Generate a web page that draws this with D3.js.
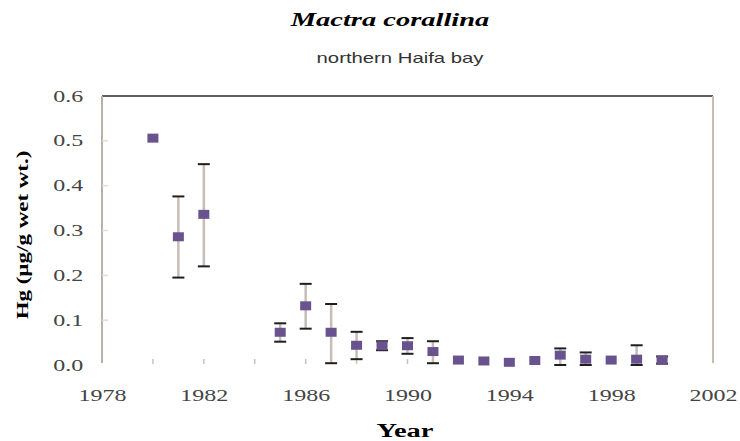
<!DOCTYPE html>
<html>
<head>
<meta charset="utf-8">
<script src="https://cdn.jsdelivr.net/npm/d3@7"></script>
<style>
  body { margin: 0; background: #fff; }
  svg { display: block; }
</style>
</head>
<body>
<div id="okvir"></div>
<script>
// podaci ocitani sa slike
const godine = [1980, 1981, 1982, 1985, 1986, 1987, 1988, 1989, 1990, 1991, 1992, 1993, 1994, 1995, 1996, 1997, 1998, 1999, 2000]
const hg = [0.506, 0.286, 0.336, 0.073, 0.132, 0.073, 0.044, 0.043, 0.043, 0.030, 0.011, 0.009, 0.006, 0.010, 0.022, 0.013, 0.011, 0.013, 0.011]
const gornja = [null, 0.376, 0.448, 0.093, 0.181, 0.136, 0.074, 0.053, 0.060, 0.053, 0.014, 0.013, 0.008, 0.013, 0.037, 0.028, 0.015, 0.044, 0.019]
const donja = [null, 0.195, 0.220, 0.052, 0.081, 0.004, 0.013, 0.033, 0.025, 0.004, 0.008, 0.005, 0.004, 0.001, 0.000, 0.000, 0.007, 0.000, 0.003]
const yTickovi = [0, 0.1, 0.2, 0.3, 0.4, 0.5, 0.6]
const xOznake = [1978, 1982, 1986, 1990, 1994, 1998, 2002]
const xTickovi = [1980, 1982, 1984, 1986, 1988, 1990, 1992, 1994, 1996, 1998, 2000]

const dataset = godine.map((g, i) => ({ godina: g, v: hg[i], hi: gornja[i], lo: donja[i] }))

const sirina = 740, visina = 441
const margine = { top: 96, right: 27, bottom: 76, left: 102 }
const grSirina = sirina - margine.left - margine.right
const grVisina = visina - margine.top - margine.bottom
const serif = "'Liberation Serif', 'Times New Roman', serif"

const okvir = d3.select("#okvir").append("svg")
  .attr("width", sirina)
  .attr("height", visina)
  .style("font-family", serif)

const granice = okvir.append("g")
  .attr("transform", `translate(${margine.left},${margine.top})`)

const x = d3.scaleLinear().domain([1978, 2002]).range([0, grSirina])
const y = d3.scaleLinear().domain([0, 0.6]).range([grVisina, 0])

const rastezanje = 1.5 // slika je razvucena vodoravno

// okvir grafa
granice.append("line")
  .attr("x1", 0).attr("x2", grSirina).attr("y1", 0).attr("y2", 0)
  .attr("stroke", "#2a2a2a").attr("stroke-width", 1.5)
granice.append("line")
  .attr("x1", 0).attr("x2", 0).attr("y1", 0).attr("y2", grVisina - 2)
  .attr("stroke", "#b9b0a8").attr("stroke-width", 2)
granice.append("line")
  .attr("x1", grSirina).attr("x2", grSirina).attr("y1", 0).attr("y2", grVisina - 2)
  .attr("stroke", "#c4bcb5").attr("stroke-width", 2)

// y os
const yOs = granice.append("g")
  .call(d3.axisLeft(y).tickValues(yTickovi).tickFormat(d3.format(".1f")).tickSize(0))
  .attr("font-family", serif)
  .attr("font-size", 16)
yOs.select(".domain").remove()
yOs.selectAll("text")
  .attr("x", -12.5)
  .attr("transform", `scale(${rastezanje},1)`)
  .attr("fill", "#444")
granice.selectAll(".ytick")
  .data(yTickovi.filter(d => d > 0 && d < 0.6))
  .enter().append("line")
    .attr("class", "ytick")
    .attr("x1", 0).attr("x2", 6)
    .attr("y1", d => y(d)).attr("y2", d => y(d))
    .attr("stroke", "#e2dcd6").attr("stroke-width", 1.5)

// x os - sitni tickovi
granice.selectAll(".xtick")
  .data(xTickovi)
  .enter().append("line")
    .attr("class", "xtick")
    .attr("x1", d => x(d)).attr("x2", d => x(d))
    .attr("y1", grVisina - 6).attr("y2", grVisina - 1)
    .attr("stroke", "#c9c0b9").attr("stroke-width", 1.5)

const xOs = granice.append("g")
  .attr("transform", `translate(0,${grVisina})`)
  .call(d3.axisBottom(x).tickValues(xOznake).tickFormat(d3.format("d")).tickSize(0))
  .attr("font-family", serif)
  .attr("font-size", 16)
xOs.select(".domain").remove()
xOs.selectAll("text")
  .attr("y", 25)
  .attr("transform", `scale(${rastezanje},1)`)
  .attr("fill", "#444")

// error barovi
const sGreskom = dataset.filter(d => d.hi !== null)
granice.selectAll(".err")
  .data(sGreskom)
  .enter().append("line")
    .attr("class", "err")
    .attr("x1", d => x(d.godina)).attr("x2", d => x(d.godina))
    .attr("y1", d => y(d.hi)).attr("y2", d => y(d.lo))
    .attr("stroke", "#c8bdb6").attr("stroke-width", 2.5)

const kapa = 6
;["hi", "lo"].forEach(k => {
  granice.selectAll(".kapa-" + k)
    .data(sGreskom.filter(d => d.hi - d.lo > 0.012))
    .enter().append("line")
      .attr("class", "kapa-" + k)
      .attr("x1", d => x(d.godina) - kapa).attr("x2", d => x(d.godina) + kapa)
      .attr("y1", d => y(d[k])).attr("y2", d => y(d[k]))
      .attr("stroke", "#1e1e1e").attr("stroke-width", 2)
})

// tocke
granice.selectAll(".tocka")
  .data(dataset)
  .enter().append("rect")
    .attr("class", "tocka")
    .attr("x", d => x(d.godina) - 5.5)
    .attr("y", d => y(d.v) - 4.5)
    .attr("width", 11)
    .attr("height", 9)
    .attr("fill", "#68538f")

// naslovi
okvir.append("text")
  .attr("transform", `translate(390,26) scale(${rastezanje},1)`)
  .attr("text-anchor", "middle")
  .style("font-size", "19px")
  .style("font-weight", "bold")
  .style("font-style", "italic")
  .text("Mactra corallina")

okvir.append("text")
  .attr("transform", `translate(400,63) scale(1.4,1)`)
  .attr("text-anchor", "middle")
  .style("font-family", "'Liberation Sans', Arial, sans-serif")
  .style("font-size", "14.5px")
  .attr("fill", "#333")
  .text("northern Haifa bay")

okvir.append("text")
  .attr("transform", `translate(405,437) scale(${rastezanje},1)`)
  .attr("text-anchor", "middle")
  .style("font-size", "19px")
  .style("font-weight", "bold")
  .text("Year")

okvir.append("text")
  .attr("transform", `translate(28,235) rotate(-90) scale(1.35,1)`)
  .attr("text-anchor", "middle")
  .style("font-size", "17px")
  .style("font-weight", "bold")
  .text("Hg (µg/g wet wt.)")
</script>
</body>
</html>
